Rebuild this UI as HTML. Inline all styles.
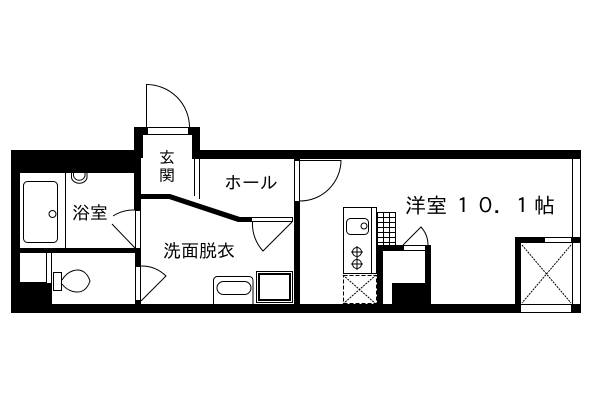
<!DOCTYPE html>
<html><head><meta charset="utf-8"><style>
html,body{margin:0;padding:0;background:#fff}
svg{display:block}
text{font-family:"Liberation Sans","IPAGothic","Noto Sans CJK JP",sans-serif;fill:#000}
</style></head><body>
<svg width="600" height="400" viewBox="0 0 600 400" xmlns="http://www.w3.org/2000/svg">
<rect width="600" height="400" fill="#fff"/>
<g fill="#000" shape-rendering="crispEdges">
<rect x="11" y="150" width="124" height="23"/>
<rect x="11" y="150" width="9" height="163"/>
<rect x="11" y="304" width="510" height="9"/>
<rect x="571" y="304" width="10" height="9"/>
<rect x="20" y="283" width="32" height="21"/>
<rect x="134" y="127" width="9" height="31"/>
<rect x="134" y="158" width="7" height="52"/>
<rect x="135" y="210" width="6" height="38" fill="#fff"/>
<rect x="20" y="248" width="121" height="5"/>
<rect x="135" y="253" width="6" height="13"/>
<rect x="135" y="301" width="6" height="3"/>
<rect x="189" y="127" width="11" height="8"/>
<rect x="192" y="135" width="8" height="23"/>
<rect x="192" y="150" width="389" height="9"/>
<rect x="294" y="201" width="6" height="103"/>
<rect x="294" y="159" width="6" height="2"/>
<rect x="134" y="127" width="13" height="8"/>
<rect x="377" y="245" width="6" height="59"/>
<rect x="377" y="245" width="26" height="6"/>
<rect x="425" y="245" width="6" height="59"/>
<rect x="392" y="283" width="39" height="21"/>
<rect x="515" y="237" width="6" height="67"/>
<rect x="515" y="237" width="29" height="6"/>
<rect x="571" y="237" width="10" height="6"/>
</g>
<polygon points="141,194 170,194 240,217 252,217 252,222 238,222 169,199 141,199" fill="#000"/>
<g fill="none" stroke="#000" stroke-width="1" shape-rendering="crispEdges">
<!-- entry door frame -->
<rect x="147.500" y="127.500" width="41" height="7"/>
<path d="M146.500 127V84"/>
<!-- bath frame -->
<path d="M135.500 210V248M140.500 210V248M135.500 266V301M140.500 266V301M135.500 210.500H141M135.500 266.500H141M135.500 300.500H141"/>
<!-- hall left double line -->
<path d="M194.500 159V196M199.500 159V199"/>
<!-- hall door frame -->
<path d="M294.500 161V201M299.500 161V201M300 160.500H341"/>
<!-- wash door frame -->
<path d="M252 217.500H292M252 221.500H292M292.500 217V222"/>
<!-- bath partition + toilet -->
<path d="M65.500 173V248M46.500 253V283M51.500 253V283M20 282.500H46"/>
<rect x="53.500" y="272.500" width="8" height="18"/>
<!-- washing pan -->
<rect x="256.500" y="271.500" width="36" height="31"/>
<rect x="258.500" y="273.500" width="32" height="27"/>
<rect x="259.500" y="274.500" width="30" height="25"/>
<!-- kitchen -->
<rect x="343.500" y="207.500" width="33" height="66"/>
<path d="M371.500 207V273"/>
<!-- grid -->
<path d="M377.500 212V245M383.500 212V245M389.500 212V245M395.500 212V245M377 217.500H396M377 222.500H396M377 227.500H396M377 232.500H396M377 237.500H396M377 242.500H396M377 212.500H396"/>
<!-- closet frames -->
<rect x="403.500" y="245.500" width="22" height="5" fill="#fff"/>
<rect x="544.500" y="237.500" width="27" height="5" fill="#fff"/>
<path d="M521 304.500H571M521 312.500H571"/>
<path d="M572.500 159V237M580.500 159V237M572.500 243V304M580.500 243V304"/>
<!-- kitchen dashed -->
<rect x="343.500" y="275.500" width="33" height="28" stroke-dasharray="4 2"/>
</g>
<g fill="none" stroke="#000" stroke-width="1">
<path d="M146.500 84.500A43 43 0 0 1 189.500 127"/>
<rect x="23.500" y="181.500" width="34" height="61" rx="4"/>
<circle cx="52.500" cy="214" r="3.500"/>
<path d="M71.500 173V178A8 7 0 0 0 87 178V173"/>
<path d="M73.500 173V176A6 6 0 0 0 85 176V173"/>
<path d="M113 216A38 38 0 0 1 135 210"/>
<path d="M135 248L112 224"/>
<path d="M62 280C68 270 78 268 84 272C87 274 89 278 90 281C89 284 87 288 84 290C78 294 68 292 62 284"/>
<path d="M141 266A35 35 0 0 1 166 276L141 301"/>
<path d="M300 201A41 41 0 0 0 341 160"/>
<path d="M252.500 222A40 40 0 0 0 263 251L292 222"/>
<rect x="346.500" y="218.500" width="22" height="16" rx="4"/>
<circle cx="364" cy="226" r="3"/>
<circle cx="357" cy="252" r="4.500"/>
<circle cx="357" cy="264" r="4.500"/>
<path d="M357 246V270M351 252H363M351 264H363"/>
<path d="M343 275L376 304M376 275L343 304" stroke-dasharray="2 1"/>
<path d="M403 245L421 227A27 27 0 0 1 428 245"/>
<path d="M522 245L571 303M571 245L522 303" stroke-dasharray="2 1"/>
<path d="M213.500 304V281A4 4 0 0 1 217 276.500H249A4 4 0 0 1 253 281V304"/>
<rect x="217" y="281.500" width="34" height="13" rx="6.500"/>
</g>
<text x="159" y="163" font-size="16">玄</text>
<text x="159" y="181" font-size="16">関</text>
<text x="72" y="219" font-size="18">浴室</text>
<text x="224" y="189" font-size="18">ホール</text>
<text x="163" y="257" font-size="18">洗面脱衣</text>
<text x="405 426.300 452.600 475 493.400 511.800 534" y="213" font-size="21">洋室１０．１帖</text>
</svg>
</body></html>
